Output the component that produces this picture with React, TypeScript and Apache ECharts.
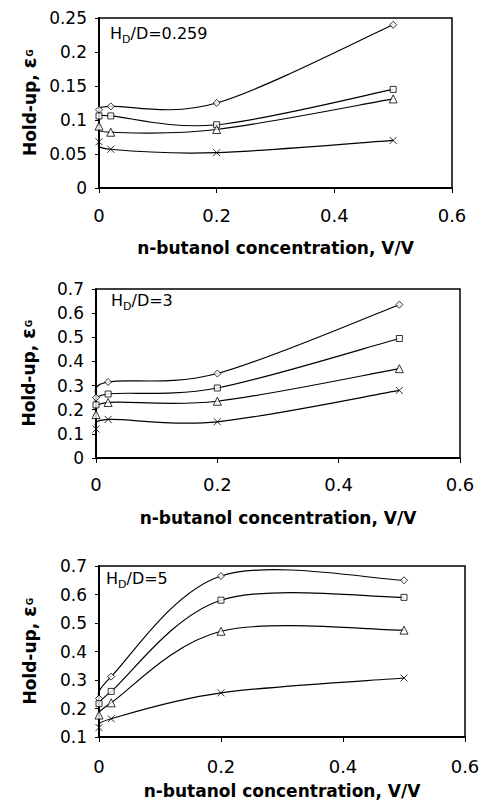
import React, { useEffect, useRef } from 'react';
import * as echarts from 'echarts';

// n-butanol concentration (V/V) at which hold-up was measured
const concentration = [0, 0.02, 0.2, 0.5];

// Panel 1: HD/D = 0.259
const p1Diamond = [0.115, 0.12, 0.125, 0.24];
const p1Square = [0.106, 0.106, 0.093, 0.145];
const p1Triangle = [0.091, 0.082, 0.086, 0.131];
const p1Cross = [0.068, 0.057, 0.052, 0.07];

// Panel 2: HD/D = 3
const p2Diamond = [0.25, 0.315, 0.35, 0.635];
const p2Square = [0.22, 0.265, 0.29, 0.495];
const p2Triangle = [0.18, 0.23, 0.235, 0.37];
const p2Cross = [0.12, 0.16, 0.15, 0.28];

// Panel 3: HD/D = 5
const p3Diamond = [0.235, 0.312, 0.665, 0.65];
const p3Square = [0.217, 0.26, 0.58, 0.59];
const p3Triangle = [0.177, 0.22, 0.471, 0.475];
const p3Cross = [0.133, 0.164, 0.255, 0.307];

const panelLabels = ['0.259', '3', '5'];
const xTitle = 'n-butanol concentration, V/V';
const yTitleMain = 'Hold-up, ';
const yTitleSymbol = 'ε';
const yTitleSub = 'G';

const FONT = 'DejaVu Sans';
const CROSS = 'path://M0,0L10,10M10,0L0,10';

function catmull(pts: number[][]): string {
  let d = `M${pts[0][0]},${pts[0][1]}`;
  for (let i = 0; i < pts.length - 1; i++) {
    const p0 = pts[i - 1] || pts[i];
    const p1 = pts[i];
    const p2 = pts[i + 1];
    const p3 = pts[i + 2] || pts[i + 1];
    const c1x = p1[0] + (p2[0] - p0[0]) / 6;
    const c1y = p1[1] + (p2[1] - p0[1]) / 6;
    const c2x = p2[0] - (p3[0] - p1[0]) / 6;
    const c2y = p2[1] - (p3[1] - p1[1]) / 6;
    d += `C${c1x},${c1y},${c2x},${c2y},${p2[0]},${p2[1]}`;
  }
  return d;
}

function measure(text: string, size: number, weight: string): number {
  const c = document.createElement('canvas').getContext('2d');
  if (!c) return text.length * size * 0.6;
  c.font = `${weight} ${size}px "${FONT}"`;
  return c.measureText(text).width;
}

export default function App() {
  const ref = useRef<HTMLDivElement>(null);
  useEffect(() => {
    if (!ref.current) return;
    const chart = echarts.init(ref.current, null, { renderer: 'svg' });

    const grids = [
      { left: 99, top: 18, width: 353, height: 170 },
      { left: 96, top: 289, width: 364, height: 169 },
      { left: 99, top: 566, width: 366, height: 171 },
    ];
    const yRanges = [
      { min: 0, max: 0.25, interval: 0.05 },
      { min: 0, max: 0.7, interval: 0.1 },
      { min: 0.1, max: 0.7, interval: 0.1 },
    ];
    const xNameGaps = [51, 51, 45];
    const xLabelMargins = [18, 17, 20];
    const panels = [
      [p1Diamond, p1Square, p1Triangle, p1Cross],
      [p2Diamond, p2Square, p2Triangle, p2Cross],
      [p3Diamond, p3Square, p3Triangle, p3Cross],
    ];
    const symbols = ['diamond', 'rect', 'triangle', CROSS];
    const symbolSizes = [7, 6, 8, 7];

    const series: any[] = [];
    panels.forEach((set, pi) => {
      set.forEach((vals, si) => {
        const data = concentration.map((x, k) => [x, vals[k]]);
        series.push({
          type: 'custom',
          coordinateSystem: 'cartesian2d',
          xAxisIndex: pi,
          yAxisIndex: pi,
          data,
          encode: { x: 0, y: 1 },
          z: 2,
          renderItem: (params: any, api: any) => {
            if (params.dataIndex !== 0) return null;
            const pts = data.map((p) => api.coord(p));
            return {
              type: 'path',
              shape: { pathData: catmull(pts) },
              style: { stroke: '#000', fill: 'none', lineWidth: 1.2 },
            };
          },
        });
        series.push({
          type: 'scatter',
          xAxisIndex: pi,
          yAxisIndex: pi,
          data,
          symbol: symbols[si],
          symbolSize: symbolSizes[si],
          z: 3,
          itemStyle: { color: '#fff', borderColor: '#000', borderWidth: 1 },
        });
      });
    });

    // rotated y-axis titles built from three text pieces
    const sA = 17, sB = 20, sC = 9;
    const wA = measure(yTitleMain, sA, 'bold');
    const wB = measure(yTitleSymbol, sB, 'bold');
    const wC = measure(yTitleSub, sC, 'bold');
    const W = wA + wB + wC;
    const titleX = [36, 35, 36];
    const yTitles = grids.map((g, i) => ({
      type: 'group',
      x: titleX[i],
      y: g.top + g.height / 2,
      rotation: Math.PI / 2,
      children: [
        {
          type: 'text', x: -W / 2, y: -0.346 * sA,
          style: { text: yTitleMain, fontSize: sA, fontWeight: 'bold', fontFamily: FONT, fill: '#000', align: 'left', verticalAlign: 'middle' },
        },
        {
          type: 'text', x: -W / 2 + wA, y: -0.346 * sB,
          style: { text: yTitleSymbol, fontSize: sB, fontWeight: 'bold', fontFamily: FONT, fill: '#000', align: 'left', verticalAlign: 'middle' },
        },
        {
          type: 'text', x: -W / 2 + wA + wB + 0.5, y: -2.6 - 0.346 * sC,
          style: { text: yTitleSub, fontSize: sC, fontWeight: 'bold', fontFamily: FONT, fill: '#000', align: 'left', verticalAlign: 'middle' },
        },
      ],
    }));

    const labels = panelLabels.map((lab, i) => ({
      type: 'text',
      x: [110, 111, 106][i],
      y: [35, 302, 580][i],
      style: {
        text: `{a|H}{b|D}{a|/D=${lab}}`,
        verticalAlign: 'middle',
        rich: {
          a: { fontSize: 16, fontFamily: FONT, fill: '#000', verticalAlign: 'bottom', padding: [0, 0, 3, 0] },
          b: { fontSize: 11, fontFamily: FONT, fill: '#000', verticalAlign: 'bottom' },
        },
      },
    }));

    const option: any = {
      animation: false,
      grid: grids.map((g) => ({ ...g, show: true, borderColor: '#000', borderWidth: 1.5, containLabel: false })),
      xAxis: grids.map((g, i) => ({
        type: 'value',
        gridIndex: i,
        min: 0,
        max: 0.6,
        interval: 0.2,
        splitLine: { show: false },
        axisLine: { onZero: false, lineStyle: { color: '#000', width: 2 } },
        axisTick: { show: true, inside: false, length: 5, lineStyle: { color: '#000', width: 1 } },
        axisLabel: { color: '#000', fontSize: 18, fontFamily: FONT, margin: xLabelMargins[i] },
        name: xTitle,
        nameLocation: 'middle',
        nameGap: xNameGaps[i],
        nameTextStyle: { color: '#000', fontSize: 17, fontWeight: 'bold', fontFamily: FONT },
      })),
      yAxis: grids.map((g, i) => ({
        type: 'value',
        gridIndex: i,
        ...yRanges[i],
        splitLine: { show: false },
        axisLine: { onZero: false, lineStyle: { color: '#000', width: 2 } },
        axisTick: { show: true, inside: false, length: 4, lineStyle: { color: '#000', width: 1 } },
        axisLabel: { color: '#000', fontSize: 17, fontFamily: FONT, margin: 12 },
      })),
      graphic: [...yTitles, ...labels],
      series,
    };
    chart.setOption(option);
    return () => chart.dispose();
  }, []);
  return <div ref={ref} style={{ position: 'absolute', left: 0, top: 0, width: 484, height: 807 }} />;
}
